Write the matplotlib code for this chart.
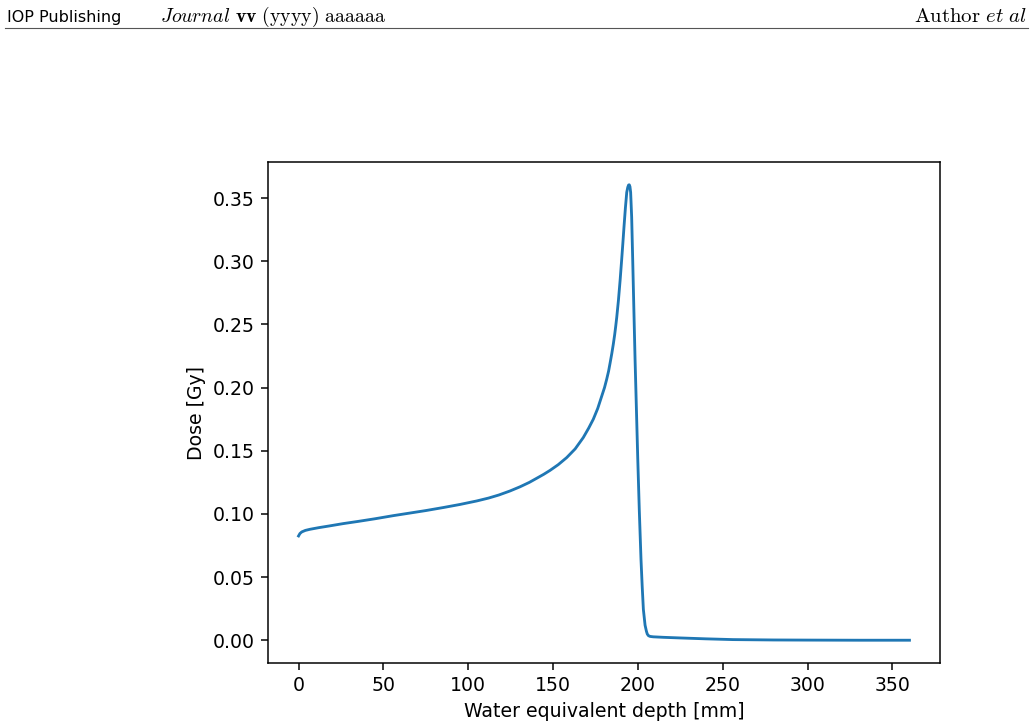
import matplotlib.pyplot as plt

plt.rcParams['mathtext.fontset'] = 'cm'

# depth-dose curve
depth = [0, 0.8, 1.9, 4, 6.8, 12, 18, 26.4, 35, 45, 55.9, 65, 75, 85.3,
         95, 105, 112, 118, 124.6, 130.5, 136, 140.4, 144.5, 148.2, 153,
         158, 163, 167.8, 171, 173.7, 176.3, 178.7, 180.3, 181.6, 182.7,
         183.6, 184.6, 185.5, 186.3, 186.9, 187.5, 188.5, 189.5, 190.4,
         191.1, 191.8, 192.6, 193.4, 194.0, 194.5, 194.9, 195.3, 195.7,
         196.3, 196.9, 197.6, 198.3, 199.1, 199.9, 200.8, 201.8, 202.5,
         203.2, 204.2, 205.0, 205.5, 206.2, 207.2, 209, 215, 225, 240, 256,
         280, 300, 330, 360]
dose = [0.0826, 0.0845, 0.0858, 0.0870, 0.0879, 0.0892, 0.0905, 0.0924,
        0.0941, 0.0962, 0.0987, 0.1006, 0.1027, 0.1051, 0.1075, 0.1103,
        0.1126, 0.1150, 0.1182, 0.1215, 0.1250, 0.1283, 0.1314, 0.1345,
        0.1390, 0.1446, 0.1515, 0.1605, 0.1680, 0.1750, 0.1835, 0.1934,
        0.2000, 0.2067, 0.2130, 0.2195, 0.2270, 0.2345, 0.2420, 0.2485,
        0.2555, 0.2690, 0.2850, 0.3010, 0.3140, 0.3275, 0.3420, 0.3545,
        0.3585, 0.3603, 0.3605, 0.3590, 0.3545, 0.3350, 0.3020, 0.2620,
        0.2225, 0.1830, 0.1433, 0.1030, 0.0641, 0.0430, 0.0245, 0.0120,
        0.0072, 0.0050, 0.0037, 0.0031, 0.0028, 0.0024, 0.0019, 0.0012,
        0.0006, 0.0003, 0.0002, 0.0001, 0.0001]

s = 1.355  # page scale of the embedded figure

fig = plt.figure(figsize=(10.34, 7.27), dpi=100)

# page header
fig.text(7/1034, 1 - 22/727, "IOP Publishing", fontsize=11.5, ha='left',
         va='baseline')
fig.text(160/1034, 1 - 22/727,
         r"$\mathit{Journal}\ \mathbf{vv}\ \mathrm{(yyyy)\ aaaaaa}$",
         fontsize=14.3, ha='left', va='baseline')
fig.text(1027/1034, 1 - 22/727, r"$\mathrm{Author}\ \mathit{et\ al}$",
         fontsize=15, ha='right', va='baseline')
fig.add_artist(plt.Line2D([5/1034, 1028/1034], [1 - 28/727, 1 - 28/727],
                          color='#555555', lw=0.8))

ax = fig.add_axes([268/1034, 1 - 663/727, 672/1034, 501/727])
ax.plot(depth, dose, color='#1f77b4', lw=1.5*s)
ax.set_xlabel("Water equivalent depth [mm]", fontsize=10*s, labelpad=3.5*s)
ax.set_ylabel("Dose [Gy]", fontsize=10*s, labelpad=3.5*s)
ax.set_xticks([0, 50, 100, 150, 200, 250, 300, 350])
ax.set_yticks([0.00, 0.05, 0.10, 0.15, 0.20, 0.25, 0.30, 0.35])
ax.tick_params(labelsize=10*s, length=3.5*s, width=0.8*s, pad=3.5*s)
for sp in ax.spines.values():
    sp.set_linewidth(0.8*s)

fig.savefig("out.png", dpi=100)
